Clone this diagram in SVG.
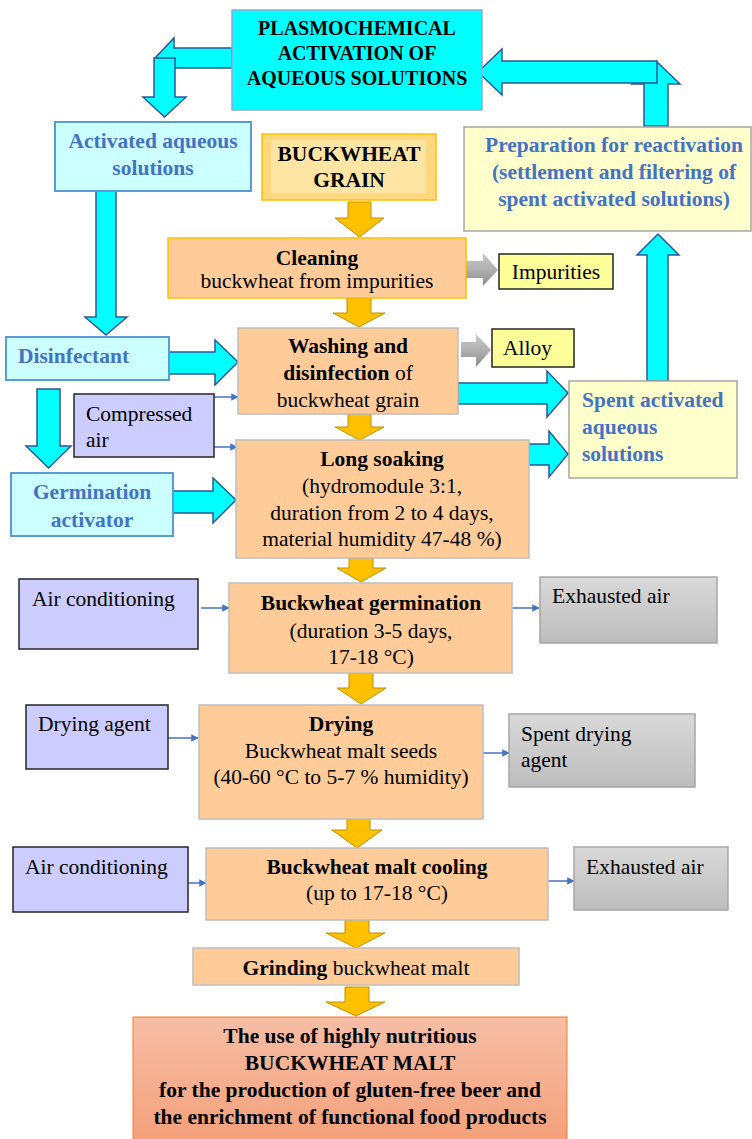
<svg xmlns="http://www.w3.org/2000/svg" width="752" height="1139" viewBox="0 0 752 1139">
<defs>
<style>
text{font-family:"Liberation Serif","Times New Roman",serif;font-size:21.5px;fill:#000}
.b{font-weight:bold}
.blue{fill:#4472C4;font-weight:bold}
.c{text-anchor:middle}
.proc{fill:#FFCC99;stroke:#BFBFBF;stroke-width:1.5}
.lc{fill:#CCFFFF;stroke:#5B9BD5;stroke-width:2}
.lav{fill:#CCCCFF;stroke:#262626;stroke-width:1.5}
.gr{fill:url(#gg);stroke:#A6A6A6;stroke-width:1.5}
.yl{fill:#FFFFCC;stroke:#A6A6A6;stroke-width:1.5}
.ye{fill:#FFFF99;stroke:#262626;stroke-width:1.5}
.ca{fill:#00FFFF;stroke:#2F5597;stroke-width:1.5;stroke-linejoin:miter}
.oa{fill:#FFC000;stroke:#BF9000;stroke-width:1}
.ga{fill:url(#ga);stroke:none}
.thin{stroke:#4472C4;stroke-width:1.5;fill:none;marker-end:url(#ah)}
</style>
<linearGradient id="gg" x1="0" y1="0" x2="0" y2="1"><stop offset="0" stop-color="#D9D9D9"/><stop offset="1" stop-color="#BDBDBD"/></linearGradient>
<linearGradient id="ga" x1="0" y1="0" x2="0" y2="1"><stop offset="0" stop-color="#C8C8C8"/><stop offset="0.5" stop-color="#B0B0B0"/><stop offset="1" stop-color="#8C8C8C"/></linearGradient>
<linearGradient id="fg" x1="0" y1="0" x2="0" y2="1"><stop offset="0" stop-color="#F6BEA6"/><stop offset="1" stop-color="#F4A07A"/></linearGradient>
<marker id="ah" viewBox="0 0 10 10" refX="9" refY="5" markerWidth="5" markerHeight="5" orient="auto"><path d="M0,0 L10,5 L0,10 z" fill="#4472C4"/></marker>
</defs>

<g id="connectors">
<polygon class="ca" points="232,48 174,48 174,38 155,58 174,78 174,68 232,68"/>
<polygon class="ca" points="154,58 175,58 175,97 186,97 164.5,117 143,97 154,97"/>
<polygon class="ca" points="644,126 668,126 668,84 680,84 656,61 632,84 644,84"/>
<polygon class="ca" points="657,61 502,61 502,49 478,72 502,95 502,83 657,83"/>
<polygon class="ca" points="96,191 116,191 116,317 127,317 106,335 85,317 96,317"/>
<polygon class="ca" points="169,352 215,352 215,340 238,362 215,385 215,374 169,374"/>
<polygon class="ca" points="37,389 60,389 60,446 71,446 48.5,468 26,446 37,446"/>
<polygon class="ca" points="173,491 213,491 213,478 236,500 213,523 213,513 173,513"/>
<polygon class="ca" points="458,383 547,383 547,371 568,393 547,417 547,404 458,404"/>
<polygon class="ca" points="529,444 549,444 549,431 568,454 549,477 549,465 529,465"/>
<polygon class="ca" points="647,381 668,381 668,255 679,255 658,234 637,255 647,255"/>
<polygon class="oa" points="348,202 371,202 371,218 384,218 359.5,237 335,218 348,218"/>
<polygon class="oa" points="347,298 371,298 371,313 385,313 359,327 333,313 347,313"/>
<polygon class="oa" points="348,414 371,414 371,427 384,427 359.5,440 335,427 348,427"/>
<polygon class="oa" points="349,558 373,558 373,568 386,568 361,582 337,568 349,568"/>
<polygon class="oa" points="349,673 373,673 373,688 386,688 361,704 337,688 349,688"/>
<polygon class="oa" points="347,819 370,819 370,830 382,830 357,848 332,830 347,830"/>
<polygon class="oa" points="345,920 369,920 369,933 385,933 356,948 326,933 345,933"/>
<polygon class="oa" points="345,987 369,987 369,1002 385,1002 356,1016 326,1002 345,1002"/>
<polygon class="ga" points="466,261 483,261 483,253 498,270 483,286 483,278 466,278"/>
<polygon class="ga" points="461,342 476,342 476,334 491,350 476,367 476,357 461,357"/>
<line class="thin" x1="214" y1="397" x2="238" y2="397"/>
<line class="thin" x1="214" y1="447" x2="237" y2="447"/>
<line class="thin" x1="201" y1="608" x2="229" y2="608"/>
<line class="thin" x1="512" y1="608" x2="539" y2="608"/>
<line class="thin" x1="168" y1="738" x2="198" y2="738"/>
<line class="thin" x1="483" y1="753" x2="509" y2="753"/>
<line class="thin" x1="188" y1="883" x2="206" y2="883"/>
<line class="thin" x1="548" y1="881" x2="574" y2="881"/>
</g>

<g id="plasmochemical">
<rect x="232" y="10" width="250" height="100" fill="#00FFFF" stroke="#8FAADC" stroke-width="1.5"/>
<text class="b c" x="357" y="35" style="font-size:20px">PLASMOCHEMICAL</text>
<text class="b c" x="357" y="60" style="font-size:20px">ACTIVATION OF</text>
<text class="b c" x="357" y="85" style="font-size:20px">AQUEOUS SOLUTIONS</text>
</g>

<g id="activated">
<rect class="lc" x="55" y="122" width="196" height="69"/>
<text class="blue c" x="153" y="148">Activated aqueous</text>
<text class="blue c" x="153" y="175">solutions</text>
</g>

<g id="grain">
<rect x="262" y="134" width="174" height="66" fill="#FFD77F" stroke="#FFC000" stroke-width="1.5"/>
<rect x="271" y="140" width="155" height="53" fill="#FFE5A3"/>
<text class="b c" x="349" y="161">BUCKWHEAT</text>
<text class="b c" x="349" y="187">GRAIN</text>
</g>

<g id="preparation">
<rect class="yl" x="464" y="127" width="287" height="104"/>
<text class="blue c" x="614" y="152">Preparation for reactivation</text>
<text class="blue c" x="614" y="179">(settlement and filtering of</text>
<text class="blue c" x="614" y="206">spent activated solutions)</text>
</g>

<g id="cleaning">
<rect x="168" y="238" width="298" height="60" fill="#FFCC99" stroke="#FFC000" stroke-width="1.5"/>
<text class="b c" x="317" y="265">Cleaning</text>
<text class="c" x="317" y="288">buckwheat from impurities</text>
</g>

<g id="impurities">
<rect class="ye" x="499" y="254" width="114" height="35"/>
<text class="c" x="556" y="279">Impurities</text>
</g>

<g id="disinfectant">
<rect class="lc" x="6" y="337" width="163" height="43"/>
<text class="blue" x="18" y="363">Disinfectant</text>
</g>

<g id="washing">
<rect class="proc" x="238" y="328" width="220" height="86"/>
<text class="b c" x="348" y="353">Washing and</text>
<text class="c" x="348" y="380"><tspan class="b">disinfection</tspan> of</text>
<text class="c" x="348" y="407">buckwheat grain</text>
</g>

<g id="alloy">
<rect class="ye" x="492" y="329" width="82" height="38"/>
<text x="503" y="355">Alloy</text>
</g>

<g id="compressed">
<rect class="lav" x="74" y="394" width="140" height="63"/>
<text x="86" y="421">Compressed</text>
<text x="86" y="447">air</text>
</g>

<g id="spent">
<rect class="yl" x="569" y="381" width="168" height="97"/>
<text class="blue" x="582" y="407">Spent activated</text>
<text class="blue" x="582" y="434">aqueous</text>
<text class="blue" x="582" y="461">solutions</text>
</g>

<g id="germactivator">
<rect class="lc" x="11" y="473" width="162" height="63"/>
<text class="blue c" x="92" y="499">Germination</text>
<text class="blue c" x="92" y="527">activator</text>
</g>

<g id="soaking">
<rect class="proc" x="236" y="440" width="293" height="118"/>
<text class="b c" x="382" y="466">Long soaking</text>
<text class="c" x="382" y="493">(hydromodule 3:1,</text>
<text class="c" x="382" y="520">duration from 2 to 4 days,</text>
<text class="c" x="382" y="546">material humidity 47-48 %)</text>
</g>

<g id="aircond1">
<rect class="lav" x="19" y="579" width="179" height="70"/>
<text x="32" y="606">Air conditioning</text>
</g>

<g id="germination">
<rect class="proc" x="229" y="583" width="283" height="90"/>
<text class="b c" x="371" y="610">Buckwheat germination</text>
<text class="c" x="371" y="638">(duration 3-5 days,</text>
<text class="c" x="371" y="664">17-18 °C)</text>
</g>

<g id="exhausted1">
<rect class="gr" x="540" y="577" width="177" height="66"/>
<text x="552" y="603">Exhausted air</text>
</g>

<g id="dryingagent">
<rect class="lav" x="26" y="705" width="142" height="64"/>
<text x="38" y="731">Drying agent</text>
</g>

<g id="drying">
<rect class="proc" x="199" y="705" width="284" height="114"/>
<text class="b c" x="341" y="731">Drying</text>
<text class="c" x="341" y="758">Buckwheat malt seeds</text>
<text class="c" x="341" y="784">(40-60 °C to 5-7 % humidity)</text>
</g>

<g id="spentdrying">
<rect class="gr" x="509" y="714" width="186" height="73"/>
<text x="521" y="741">Spent drying</text>
<text x="521" y="767">agent</text>
</g>

<g id="aircond2">
<rect class="lav" x="13" y="847" width="175" height="65"/>
<text x="25" y="874">Air conditioning</text>
</g>

<g id="cooling">
<rect class="proc" x="206" y="848" width="342" height="72"/>
<text class="b c" x="377" y="874">Buckwheat malt cooling</text>
<text class="c" x="377" y="900">(up to 17-18 °C)</text>
</g>

<g id="exhausted2">
<rect class="gr" x="574" y="847" width="154" height="63"/>
<text x="586" y="874">Exhausted air</text>
</g>

<g id="grinding">
<rect class="proc" x="193" y="948" width="326" height="37"/>
<text class="c" x="356" y="975"><tspan class="b">Grinding</tspan> buckwheat malt</text>
</g>

<g id="final">
<rect x="133" y="1017" width="434" height="125" fill="url(#fg)" stroke="#ED7D31" stroke-width="1"/>
<text class="b c" x="350" y="1043">The use of highly nutritious</text>
<text class="b c" x="350" y="1070">BUCKWHEAT MALT</text>
<text class="b c" x="350" y="1097">for the production of gluten-free beer and</text>
<text class="b c" x="350" y="1124">the enrichment of functional food products</text>
</g>
</svg>
